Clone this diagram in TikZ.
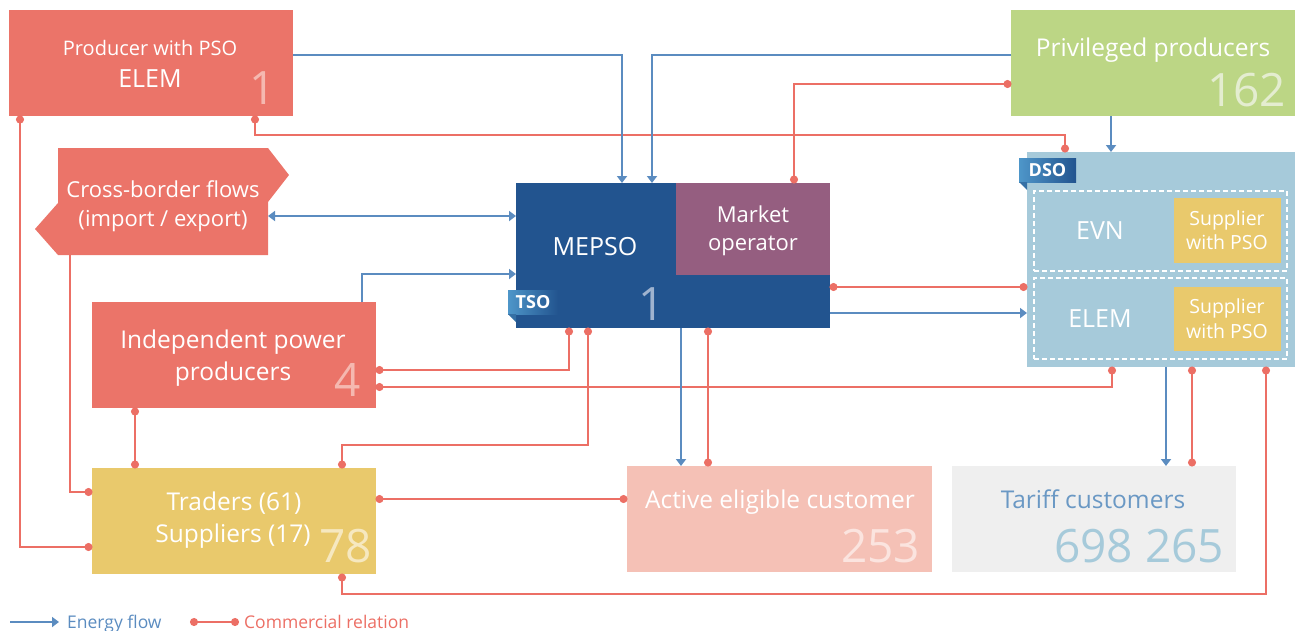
\documentclass[tikz,border=0pt]{standalone}
\usepackage{fontspec}
\setmainfont{Open Sans}
\usetikzlibrary{arrows.meta,calc}
\definecolor{cred}{HTML}{EB7469}
\definecolor{cgreen}{HTML}{BCD685}
\definecolor{cblue}{HTML}{22548F}
\definecolor{cpurple}{HTML}{955E80}
\definecolor{cdso}{HTML}{A6CADA}
\definecolor{cyellow}{HTML}{E9C96C}
\definecolor{cpink}{HTML}{F5C1B6}
\definecolor{cgray}{HTML}{EFEFEF}
\definecolor{lblue}{HTML}{5B8CC0}
\definecolor{lred}{HTML}{EC6F65}
\definecolor{numred}{HTML}{F5B8B0}
\definecolor{numgreen}{HTML}{E4EDD0}
\definecolor{numblue}{HTML}{9FB3CF}
\definecolor{numyellow}{HTML}{F6E8C0}
\definecolor{numpink}{HTML}{FBE4DF}
\definecolor{tartext}{HTML}{6A98C4}
\definecolor{tagL}{HTML}{4E96C9}
\definecolor{tagR}{HTML}{22548F}
\definecolor{tagfold}{HTML}{3570A5}
\newcommand\fsz[1]{\fontsize{#1}{#1}\selectfont}
\begin{document}
\begin{tikzpicture}[x=1pt,y=-1pt,
  box/.style={rectangle, inner sep=0pt, outer sep=0pt, anchor=north west, draw=none},
  txt/.style={inner sep=0pt, outer sep=0pt, text=white, anchor=base},
  num/.style={inner sep=0pt, outer sep=0pt, font=\fsz{46}},
  tag/.style={rectangle, inner sep=0pt, outer sep=0pt, anchor=north west, left color=tagL, right color=tagR, text=white, font=\fsz{18}\bfseries},
  dbox/.style={box, draw=white, line width=1.3pt, dash pattern=on 5pt off 3pt},
  eflow/.style={draw=lblue, line width=1.8pt, -{Triangle[width=10pt,length=7pt]}},
  eflowtwo/.style={draw=lblue, line width=1.8pt, {Triangle[width=10pt,length=7pt]}-{Triangle[width=10pt,length=7pt]}},
  comm/.style={draw=lred, line width=1.8pt, {Circle[length=8pt]}-{Circle[length=8pt]}},
  commb/.style={comm, shorten <=-0.5pt, shorten >=-0.5pt},
  commend/.style={draw=lred, line width=1.8pt, -{Circle[length=8pt]}, shorten >=-0.5pt},
]
\useasboundingbox (0,0) rectangle (1295,630);

% ---------- boxes ----------
\node[box, fill=cred, minimum width=284pt, minimum height=106pt] (prod) at (9,10) {};
\node[box, fill=cgreen, minimum width=284pt, minimum height=106pt] (priv) at (1011,10) {};
\fill[cred] (58,148) -- (268,148) -- (289,175) -- (268,202) -- (268,255) -- (58,255) -- (35,229) -- (58,203) -- cycle;
\node[box, minimum width=210pt, minimum height=107pt] (cb) at (58,148) {};
\node[box, fill=cblue, minimum width=314pt, minimum height=145pt] (mepso) at (516,183) {};
\node[box, fill=cpurple, minimum width=154pt, minimum height=92pt] (mo) at (676,183) {};
\node[box, fill=cdso, minimum width=268pt, minimum height=215pt] (dso) at (1027,152) {};
\node[dbox, minimum width=253pt, minimum height=80pt] (evnb) at (1034,191) {};
\node[dbox, minimum width=253pt, minimum height=81pt] (elemb) at (1034,278) {};
\node[box, fill=cyellow, minimum width=107pt, minimum height=65pt] (sup1) at (1174,198) {};
\node[box, fill=cyellow, minimum width=107pt, minimum height=64pt] (sup2) at (1174,287) {};
\node[box, fill=cred, minimum width=284pt, minimum height=106pt] (ipp) at (92,302) {};
\node[box, fill=cyellow, minimum width=284pt, minimum height=106pt] (trd) at (92,468) {};
\node[box, fill=cpink, minimum width=305pt, minimum height=106pt] (act) at (627,466) {};
\node[box, fill=cgray, minimum width=284pt, minimum height=106pt] (tar) at (952,466) {};

% tags
\node[tag, minimum width=50pt, minimum height=24pt] (tso) at (508,290) {TSO};
\fill[tagfold] (tso.south west) -- ([xshift=8pt]tso.south west) -- ([xshift=8pt,yshift=-8pt]tso.south west) -- cycle;
\node[tag, minimum width=57pt, minimum height=24pt] (dsotag) at (1019,158) {DSO};
\fill[tagfold] (dsotag.south west) -- ([xshift=8pt]dsotag.south west) -- ([xshift=8pt,yshift=-8pt]dsotag.south west) -- cycle;

% ---------- texts ----------
\node[txt, font=\fsz{20}] (prodT1) at (150,55) {Producer with PSO};
\node[txt, font=\fsz{25}] (prodT2) at (150,87) {ELEM};
\node[num, anchor=base, text=numred] (prodN) at (263,104) {1};
\node[txt, font=\fsz{24.5}] (privT) at (1153,56) {Privileged producers};
\node[num, anchor=base east, text=numgreen] (privN) at (1286,106) {162};
\node[txt, font=\fsz{22}] (cbT1) at (163,197) {Cross-border flows};
\node[txt, font=\fsz{22}] (cbT2) at (163,226) {(import / export)};
\node[txt, font=\fsz{25}] (mepsoT) at (595,255) {MEPSO};
\node[txt, font=\fsz{22}] (moT1) at (753,222) {Market};
\node[txt, font=\fsz{22}] (moT2) at (753,250) {operator};
\node[num, anchor=base, text=numblue] (mepsoN) at (652,320) {1};
\node[txt, font=\fsz{25}] (evnT) at (1100,239) {EVN};
\node[txt, font=\fsz{25}] (elemT) at (1100,327) {ELEM};
\node[txt, font=\fsz{19.5}] (sup1T1) at (1227,225) {Supplier};
\node[txt, font=\fsz{19.5}] (sup1T2) at (1227,249) {with PSO};
\node[txt, font=\fsz{19.5}] (sup2T1) at (1227,313) {Supplier};
\node[txt, font=\fsz{19.5}] (sup2T2) at (1227,338) {with PSO};
\node[txt, font=\fsz{24.5}] (ippT1) at (233,348) {Independent power};
\node[txt, font=\fsz{24.5}] (ippT2) at (233,380) {producers};
\node[num, anchor=base, text=numred] (ippN) at (348,396) {4};
\node[txt, font=\fsz{24.5}] (trdT1) at (234,510) {Traders (61)};
\node[txt, font=\fsz{24.5}] (trdT2) at (233,542) {Suppliers (17)};
\node[num, anchor=base east, text=numyellow] (trdN) at (372,562) {78};
\node[txt, font=\fsz{24.5}] (actT) at (780,508) {Active eligible customer};
\node[num, anchor=base east, text=numpink] (actN) at (920,562) {253};
\node[txt, font=\fsz{24.5}, text=tartext] (tarT) at (1093,508) {Tariff customers};
\node[num, anchor=base east, text=cdso] (tarN) at (1224,562) {698 265};

% ---------- coordinates ----------
\coordinate (pB) at ([yshift=-45pt]prod.north east);
\coordinate (mT1) at ([xshift=106pt]mepso.north west);
\coordinate (vB) at ([yshift=-45pt]priv.north west);
\coordinate (mT2) at ([xshift=136pt]mepso.north west);
\coordinate (vS) at ([xshift=100pt]priv.south west);
\coordinate (cbE) at ([yshift=-14.5pt]cb.east);
\coordinate (iT) at ([xshift=270pt]ipp.north west);
\coordinate (mW2) at ([yshift=-91pt]mepso.north west);
\coordinate (mE1) at ([yshift=15pt]mepso.south east);
\coordinate (mB1) at ([xshift=165pt]mepso.south west);
\coordinate (dB1) at ([xshift=139pt]dso.south west);

\coordinate (pS1) at ([xshift=11pt]prod.south west);
\coordinate (tW2) at ([yshift=27pt]trd.south west);
\coordinate (pS2) at ([xshift=246pt]prod.south west);
\coordinate (dT1) at ([xshift=38pt]dso.north west);
\coordinate (dT1a) at ([xshift=38pt,yshift=17pt]dso.north west);
\coordinate (vW2) at ([yshift=-74pt]priv.north west);
\coordinate (moT) at ([xshift=118pt]mo.north west);
\coordinate (mE2) at ([yshift=41pt]mepso.south east);
\coordinate (iE1) at ([yshift=38pt]ipp.south east);
\coordinate (mB2) at ([xshift=53pt]mepso.south west);
\coordinate (iE2) at ([yshift=21pt]ipp.south east);
\coordinate (dB2) at ([xshift=85pt]dso.south west);
\coordinate (mB3) at ([xshift=72pt]mepso.south west);
\coordinate (tN1) at ([xshift=250pt]trd.north west);
\coordinate (tN1a) at ([xshift=250pt,yshift=23pt]trd.north west);
\coordinate (mB4) at ([xshift=192pt]mepso.south west);
\coordinate (tE) at ([yshift=-31pt]trd.north east);
\coordinate (iS) at ([xshift=43pt]ipp.south west);
\coordinate (cbS) at ([xshift=12pt]cb.south west);
\coordinate (tW1) at ([yshift=-24pt]trd.north west);
\coordinate (dB3) at ([xshift=165pt]dso.south west);
\coordinate (dB4) at ([xshift=239pt]dso.south west);
\coordinate (tS) at ([xshift=250pt]trd.south west);
\coordinate (tSa) at ([xshift=250pt,yshift=-20pt]trd.south west);

% ---------- commercial relations ----------
\draw[commb] (pS1) |- (tW2);
\draw[commb] (pS2) |- (dT1a) -- (dT1);
\draw[commb] (vW2) -| (moT);
\draw[commb] (mE2) -- (mE2 -| dso.west);
\draw[commb] (iE1) -| (mB2);
\draw[commb] (iE2) -| (dB2);
\draw[commb] (mB3) |- (tN1a) -- (tN1);
\draw[commb] (mB4) -- (mB4 |- act.north);
\draw[commb] (tE) -- (tE -| act.west);
\draw[commb] (iS) -- (iS |- trd.north);
\draw[commend] (cbS) |- (tW1);
\draw[commb] (dB3) -- (dB3 |- tar.north);
\draw[commb] (dB4) |- (tSa) -- (tS);

% ---------- energy flows ----------
\draw[eflow] (pB) -| (mT1);
\draw[eflow] (vB) -| (mT2);
\draw[eflow] (vS) -- (vS |- dso.north);
\draw[eflowtwo] (cbE) -- (cbE -| mepso.west);
\draw[eflow] (iT) |- (mW2);
\draw[eflow] (mE1) -- (mE1 -| dso.west);
\draw[eflow] (mB1) -- (mB1 |- act.north);
\draw[eflow] (dB1) -- (dB1 |- tar.north);

% ---------- legend ----------
\coordinate (lg1) at (10,622);
\coordinate (lg2) at (59,622);
\draw[eflow] (lg1) -- (lg2);
\node[inner sep=0pt, anchor=base west, text=lblue, font=\fsz{17.5}] (lgT1) at (67,628) {Energy flow};
\coordinate (lg3) at (190,622);
\coordinate (lg4) at (239,622);
\draw[comm] (lg3) -- (lg4);
\node[inner sep=0pt, anchor=base west, text=lred, font=\fsz{17.5}] (lgT2) at (244,628) {Commercial relation};
\end{tikzpicture}
\end{document}
